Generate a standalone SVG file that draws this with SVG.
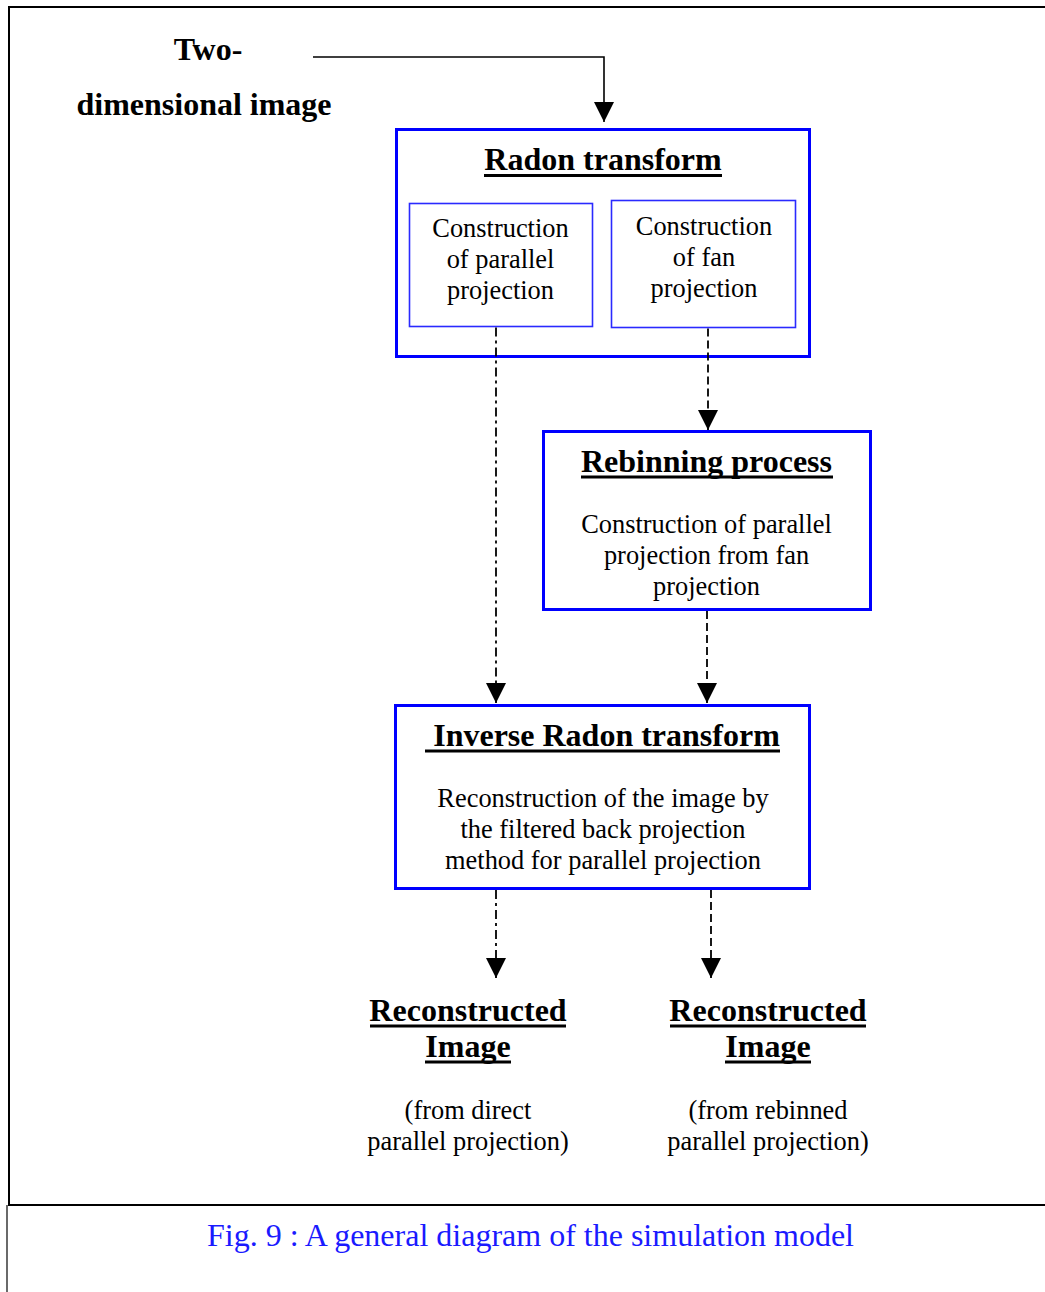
<svg xmlns="http://www.w3.org/2000/svg" width="1045" height="1292" viewBox="0 0 1045 1292">
<defs>
<style>
.t{font-family:"Liberation Serif","Times New Roman",serif;fill:#000;text-anchor:middle}
.b{font-weight:bold;font-size:32px}
.r{font-size:26.4px}
.ul{stroke:#000;stroke-width:3}
.box{fill:#fff;stroke:#0000ff;stroke-width:3}
.ibox{fill:#fff;stroke:#2a2aff;stroke-width:1.6}
.solid{fill:none;stroke:#000;stroke-width:1.6}
.dash{fill:none;stroke:#000;stroke-width:1.8;stroke-dasharray:8 4}
.dd{fill:none;stroke:#000;stroke-width:1.8;stroke-dasharray:9 4 3 4}
.frame{fill:none;stroke:#000;stroke-width:2}
</style>
<marker id="ah" viewBox="0 0 20 20" markerWidth="20" markerHeight="20" refX="20" refY="10" orient="auto" markerUnits="userSpaceOnUse">
<path d="M0,0 L20,10 L0,20 Z" fill="#000"/>
</marker>
</defs>
<rect width="1045" height="1292" fill="#fff"/>
<g id="frame">
<line class="frame" x1="8" y1="7" x2="1045" y2="7"/>
<line class="frame" x1="9" y1="6" x2="9" y2="1206"/>
<line class="frame" x1="8" y1="1205" x2="1045" y2="1205"/>
<line x1="7" y1="1205" x2="7" y2="1292" stroke="#444" stroke-width="1.6"/>
</g>
<g id="input">
<text class="t b" x="208" y="60">Two-</text>
<text class="t b" x="204" y="115">dimensional image</text>
</g>
<g id="radon">
<rect class="box" x="396.5" y="129.5" width="413" height="227"/>
<text class="t b" x="603" y="170">Radon transform</text>
<line class="ul" x1="484" y1="175.5" x2="722" y2="175.5"/>
</g>
<g id="parallel">
<rect class="ibox" x="409.5" y="203.5" width="183" height="123"/>
<text class="t r" x="500.5" y="237">Construction</text>
<text class="t r" x="500.5" y="268">of parallel</text>
<text class="t r" x="500.5" y="299">projection</text>
</g>
<g id="fan">
<rect class="ibox" x="611.5" y="200.5" width="184" height="127"/>
<text class="t r" x="704" y="235">Construction</text>
<text class="t r" x="704" y="266">of fan</text>
<text class="t r" x="704" y="297">projection</text>
</g>
<g id="rebinning">
<rect class="box" x="543.5" y="431.5" width="327" height="178"/>
<text class="t b" x="706.5" y="472">Rebinning process</text>
<line class="ul" x1="581" y1="477" x2="833" y2="477"/>
<text class="t r" x="706.5" y="533">Construction of parallel</text>
<text class="t r" x="706.5" y="564">projection from fan</text>
<text class="t r" x="706.5" y="595">projection</text>
</g>
<g id="inverse">
<rect class="box" x="395.5" y="705.5" width="414" height="183"/>
<text class="t b" x="606.5" y="746">Inverse Radon transform</text>
<line class="ul" x1="425" y1="751" x2="780" y2="751"/>
<text class="t r" x="603" y="807">Reconstruction of the image by</text>
<text class="t r" x="603" y="838">the filtered back projection</text>
<text class="t r" x="603" y="869">method for parallel projection</text>
</g>
<g id="out-direct">
<text class="t b" x="468" y="1021">Reconstructed</text>
<line class="ul" x1="370" y1="1026" x2="566" y2="1026"/>
<text class="t b" x="468" y="1057">Image</text>
<line class="ul" x1="425" y1="1062" x2="511" y2="1062"/>
<text class="t r" x="468" y="1119">(from direct</text>
<text class="t r" x="468" y="1150">parallel projection)</text>
</g>
<g id="out-rebinned">
<text class="t b" x="768" y="1021">Reconstructed</text>
<line class="ul" x1="670" y1="1026" x2="866" y2="1026"/>
<text class="t b" x="768" y="1057">Image</text>
<line class="ul" x1="725" y1="1062" x2="811" y2="1062"/>
<text class="t r" x="768" y="1119">(from rebinned</text>
<text class="t r" x="768" y="1150">parallel projection)</text>
</g>
<g id="caption">
<text x="530.5" y="1246" font-family="Liberation Serif, Times New Roman, serif" font-size="32" fill="#1a1aff" text-anchor="middle">Fig. 9 : A general diagram of the simulation model</text>
</g>
<g id="connectors">
<path class="solid" d="M313,57 H604 V122" marker-end="url(#ah)"/>
<path class="dd" d="M496,327.5 V703" marker-end="url(#ah)"/>
<path class="dash" d="M708,328.5 V430" marker-end="url(#ah)"/>
<path class="dash" d="M707,611 V703" marker-end="url(#ah)"/>
<path class="dd" d="M496,890 V978" marker-end="url(#ah)"/>
<path class="dash" d="M711,890 V978" marker-end="url(#ah)"/>
</g>
</svg>
